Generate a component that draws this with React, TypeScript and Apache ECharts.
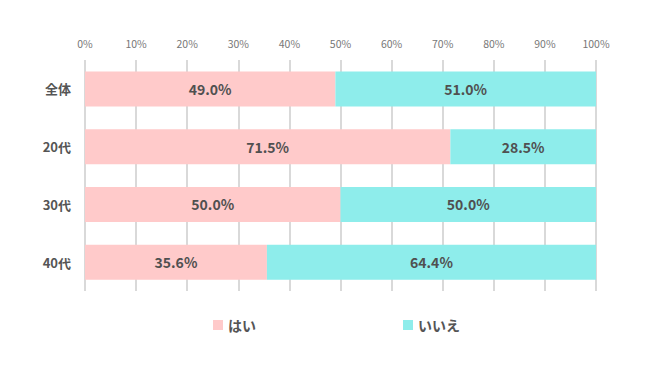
import React, { useEffect, useRef } from "react";
import * as echarts from "echarts";

const categories = ["全体", "20代", "30代", "40代"];
const yesValues = [49.0, 71.5, 50.0, 35.6];
const noValues = [51.0, 28.5, 50.0, 64.4];
const seriesNames = ["はい", "いいえ"];

export default function App() {
  const ref = useRef<HTMLDivElement>(null);
  useEffect(() => {
    const chart = echarts.init(ref.current!, null, { renderer: "svg" });
    const labelStyle = {
      show: true,
      position: "inside",
      color: "#505050",
      fontSize: 14,
      fontWeight: "bold",
      fontFamily: "Noto Sans CJK JP",
      formatter: (p: any) => p.value.toFixed(1) + "%",
    };
    chart.setOption({
      animation: false,
      grid: { left: 77, right: 46, top: 52, bottom: 71 },
      xAxis: {
        type: "value",
        position: "top",
        min: 0,
        max: 100,
        interval: 10,
        axisLine: { show: false },
        axisTick: { show: false },
        axisLabel: {
          formatter: "{value}%",
          color: "#777",
          fontSize: 10.5,
          fontFamily: "Noto Sans CJK JP",
          margin: 11,
        },
        splitLine: { show: true, lineStyle: { color: "#d9d9d9", width: 2 } },
      },
      yAxis: {
        type: "category",
        data: categories,
        inverse: true,
        axisLine: { show: false },
        axisTick: { show: false },
        axisLabel: {
          color: "#555",
          fontSize: 13,
          fontWeight: "bold",
          fontFamily: "Noto Sans CJK JP",
          margin: 14,
        },
      },
      legend: {
        data: seriesNames,
        bottom: 25,
        left: 200,
        itemWidth: 10,
        itemHeight: 10,
        itemGap: 147,
        icon: "rect",
        textStyle: {
          color: "#555",
          fontSize: 14,
          fontWeight: "bold",
          fontFamily: "Noto Sans CJK JP",
        },
      },
      series: [
        {
          name: seriesNames[0],
          type: "bar",
          stack: "total",
          data: yesValues,
          barWidth: 35,
          itemStyle: { color: "#ffcaca" },
          label: labelStyle,
        },
        {
          name: seriesNames[1],
          type: "bar",
          stack: "total",
          data: noValues,
          barWidth: 35,
          itemStyle: { color: "#8eedeb" },
          label: labelStyle,
        },
      ],
    });
    return () => chart.dispose();
  }, []);
  return <div ref={ref} style={{ width: 634, height: 354 }} />;
}
